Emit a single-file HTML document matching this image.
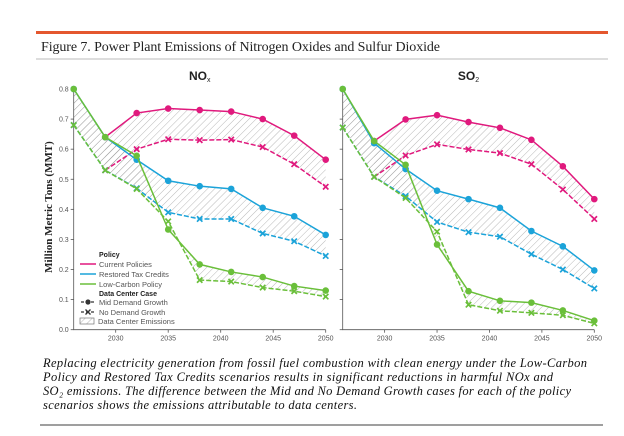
<!DOCTYPE html>
<html><head><meta charset="utf-8"><style>
html,body{margin:0;padding:0;background:#fff;}
svg{display:block;font-family:"Liberation Sans",sans-serif;}
</style></head><body>
<svg id="chart" width="624" height="436" viewBox="0 0 624 436" xmlns="http://www.w3.org/2000/svg">
<defs>
<pattern id="hatch" patternUnits="userSpaceOnUse" width="5" height="5" patternTransform="rotate(45)">
<line x1="0" y1="0" x2="0" y2="5" stroke="#9a9a9a" stroke-width="0.7"/>
</pattern>
</defs>
<rect x="36" y="31" width="572" height="3" fill="#e4572e"/>
<text x="41" y="51" font-family="Liberation Serif,serif" font-size="14" fill="#222" textLength="399">Figure 7. Power Plant Emissions of Nitrogen Oxides and Sulfur Dioxide</text>
<line x1="36" y1="59" x2="608" y2="59" stroke="#bbb" stroke-width="1"/>
<text x="52" y="207" transform="rotate(-90 52 207)" text-anchor="middle" font-family="Liberation Serif,serif" font-weight="bold" font-size="11" fill="#222">Million Metric Tons (MMT)</text>
<g id="plots"></g>
<g id="legend">
<text x="99" y="257" font-size="7" font-weight="bold" fill="#222">Policy</text>
<line x1="80" y1="264" x2="96" y2="264" stroke="#e0197d" stroke-width="1.5"/>
<text x="99" y="267" font-size="7.5" fill="#555">Current Policies</text>
<line x1="80" y1="274" x2="96" y2="274" stroke="#1ba3d9" stroke-width="1.5"/>
<text x="99" y="277" font-size="7.5" fill="#555">Restored Tax Credits</text>
<line x1="80" y1="284" x2="96" y2="284" stroke="#6abf3a" stroke-width="1.5"/>
<text x="99" y="287" font-size="7.5" fill="#555">Low-Carbon Policy</text>
<text x="99" y="296" font-size="7" font-weight="bold" fill="#222">Data Center Case</text>
<line x1="81" y1="302" x2="95" y2="302" stroke="#333" stroke-width="1.2" stroke-dasharray="3,2"/><circle cx="88" cy="302" r="2.6" fill="#333"/>
<text x="99" y="305" font-size="7.5" fill="#555">Mid Demand Growth</text>
<line x1="81" y1="312" x2="95" y2="312" stroke="#333" stroke-width="1.2" stroke-dasharray="3,2"/><path d="M85.5,309.5l5,5m0,-5l-5,5" stroke="#333" stroke-width="1.4"/>
<text x="99" y="315" font-size="7.5" fill="#555">No Demand Growth</text>
<rect x="80" y="318" width="14" height="6" fill="url(#hatch)" stroke="#777" stroke-width="0.7"/>
<text x="98" y="324" font-size="7.5" fill="#555">Data Center Emissions</text>
</g>
<g font-family="Liberation Serif,serif" font-style="italic" font-size="12.5" fill="#111">
<text x="43" y="367" textLength="544">Replacing electricity generation from fossil fuel combustion with clean energy under the Low-Carbon</text>
<text x="43" y="381" textLength="510">Policy and Restored Tax Credits scenarios results in significant reductions in harmful NOx and</text>
<text x="43" y="395" textLength="528">SO₂ emissions. The difference between the Mid and No Demand Growth cases for each of the policy</text>
<text x="43" y="409" textLength="314">scenarios shows the emissions attributable to data centers.</text>
</g>
<line x1="40" y1="425" x2="603" y2="425" stroke="#666" stroke-width="1.2"/>
</svg>
<script>
const years = [2026, 2029, 2032, 2035, 2038, 2041, 2044, 2047, 2050];
const yTicks = [0.0, 0.1, 0.2, 0.3, 0.4, 0.5, 0.6, 0.7, 0.8];
const xTicks = [2030, 2035, 2040, 2045, 2050];
const noxCurrentMid = [null, 0.64, 0.72, 0.735, 0.73, 0.725, 0.70, 0.645, 0.565];
const noxCurrentNo  = [null, 0.53, 0.60, 0.633, 0.63, 0.632, 0.607, 0.55, 0.475];
const noxTaxMid     = [0.80, 0.64, 0.565, 0.495, 0.477, 0.468, 0.405, 0.377, 0.315];
const noxTaxNo      = [0.68, 0.53, 0.47, 0.39, 0.368, 0.368, 0.32, 0.294, 0.245];
const noxLowMid     = [0.80, 0.64, 0.578, 0.333, 0.217, 0.192, 0.175, 0.145, 0.13];
const noxLowNo      = [0.68, 0.53, 0.468, 0.36, 0.165, 0.16, 0.14, 0.128, 0.11];
const so2CurrentMid = [null, 0.627, 0.699, 0.713, 0.69, 0.671, 0.631, 0.543, 0.434];
const so2CurrentNo  = [null, 0.508, 0.579, 0.616, 0.599, 0.587, 0.55, 0.466, 0.368];
const so2TaxMid     = [0.80, 0.62, 0.534, 0.462, 0.434, 0.405, 0.328, 0.277, 0.197];
const so2TaxNo      = [0.672, 0.508, 0.444, 0.358, 0.324, 0.309, 0.251, 0.20, 0.137];
const so2LowMid     = [0.80, 0.627, 0.548, 0.283, 0.128, 0.096, 0.09, 0.064, 0.03];
const so2LowNo      = [0.672, 0.508, 0.438, 0.326, 0.083, 0.063, 0.056, 0.048, 0.021];

const NS = "http://www.w3.org/2000/svg";
const root = document.getElementById('plots');
function mk(tag, attrs, parent) {
  const e = document.createElementNS(NS, tag);
  for (const k in attrs) e.setAttribute(k, attrs[k]);
  parent.appendChild(e);
  return e;
}
const y0 = 329.7, yTop = 89;
function yScale(v) { return y0 - (v / 0.8) * (y0 - yTop); }

function drawPanel(key, title, x0, x1, showY, series) {
  const g = mk('g', {}, root);
  
  
  const xs = y => x0 + (y - 2026) / 24 * (x1 - x0);
  const t = mk('text', {x: (x0 + x1) / 2, y: 80, 'text-anchor': 'middle', 'font-size': '12', 'font-weight': 'bold', fill: '#222'}, g);
  
  
  t.innerHTML = title;
  series.forEach(s => {
    const idx = years.map((y, i) => i).filter(i => s.mid[i] != null && s.no[i] != null);
    let d = idx.map((i, k) => (k ? 'L' : 'M') + xs(years[i]) + ',' + yScale(s.mid[i])).join('');
    d += idx.slice().reverse().map(i => 'L' + xs(years[i]) + ',' + yScale(s.no[i])).join('') + 'Z';
    const p = mk('path', {d: d, fill: 'url(#hatch)', stroke: 'none'}, g);
    
    
  });
  const ax = mk('path', {d: 'M' + x0 + ',' + yTop + 'V' + y0 + 'H' + x1, stroke: '#555', 'stroke-width': '0.8', fill: 'none'}, g);
  
  
  yTicks.forEach(v => {
    const yy = yScale(v);
    mk('line', {x1: x0 - 3, x2: x0, y1: yy, y2: yy, stroke: '#555', 'stroke-width': '0.8'}, g);
    if (showY) {
      const lt = mk('text', {x: x0 - 5, y: yy + 2.5, 'text-anchor': 'end', 'font-size': '7', fill: '#555'}, g);
      
      
      lt.textContent = v.toFixed(1);
    }
  });
  xTicks.forEach(v => {
    const xx = xs(v);
    mk('line', {x1: xx, x2: xx, y1: y0, y2: y0 + 3, stroke: '#555', 'stroke-width': '0.8'}, g);
    const lt = mk('text', {x: xx, y: y0 + 11, 'text-anchor': 'middle', 'font-size': '7', fill: '#555'}, g);
    
    
    lt.textContent = v;
  });
  series.forEach(s => {
    [['mid', s.mid, ''], ['no', s.no, '5,2']].forEach(([nm, arr, dash]) => {
      const pts = years.map((y, i) => arr[i] == null ? null : [xs(y), yScale(arr[i])]).filter(p => p);
      const l = mk('polyline', {points: pts.map(p => p.join(',')).join(' '), fill: 'none', stroke: s.color, 'stroke-width': '1.5', 'stroke-dasharray': dash}, g);
      
      
      pts.forEach(p => {
        let m;
        if (nm === 'mid') {
          m = mk('circle', {cx: p[0], cy: p[1], r: 3.3, fill: s.color}, g);
        } else {
          m = mk('path', {d: 'M' + (p[0] - 2.7) + ',' + (p[1] - 2.7) + 'l5.4,5.4m0,-5.4l-5.4,5.4', stroke: s.color, 'stroke-width': '1.7'}, g);
        }
        
        
      });
    });
  });
}
drawPanel('nox', 'NO<tspan font-size="7" dy="2" font-weight="normal">x</tspan>', 73.7, 325.7, true, [
  {name: 'current', color: '#e0197d', mid: noxCurrentMid, no: noxCurrentNo},
  {name: 'tax', color: '#1ba3d9', mid: noxTaxMid, no: noxTaxNo},
  {name: 'lowcarbon', color: '#6abf3a', mid: noxLowMid, no: noxLowNo}
]);
drawPanel('so2', 'SO<tspan font-size="7" dy="2" font-weight="normal">2</tspan>', 342.7, 594.3, false, [
  {name: 'current', color: '#e0197d', mid: so2CurrentMid, no: so2CurrentNo},
  {name: 'tax', color: '#1ba3d9', mid: so2TaxMid, no: so2TaxNo},
  {name: 'lowcarbon', color: '#6abf3a', mid: so2LowMid, no: so2LowNo}
]);
</script>
</body></html>
